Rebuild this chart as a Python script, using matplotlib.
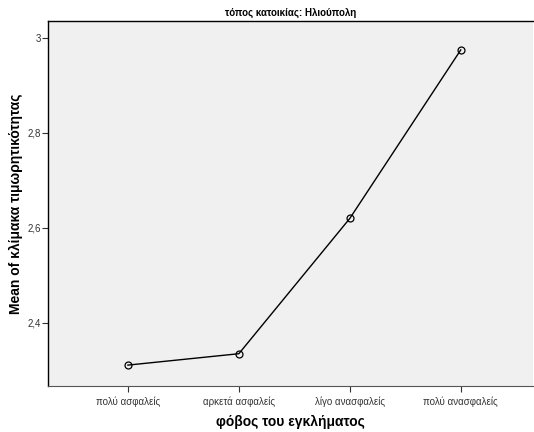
import matplotlib
matplotlib.use("Agg")
import matplotlib.pyplot as plt
from matplotlib.ticker import FuncFormatter

plt.rcParams['font.family'] = ['Liberation Sans', 'DejaVu Sans']

# δεδομένα του γραφήματος
categorias = ["πολύ ασφαλείς", "αρκετά ασφαλείς", "λίγο ανασφαλείς", "πολύ ανασφαλείς"]
medias = [2.311, 2.335, 2.620, 2.975]
ticks_y = [2.4, 2.6, 2.8, 3.0]

fig = plt.figure(figsize=(5.34, 4.32), dpi=100)
ax = fig.add_axes([0.0899, 0.1065, 0.908, 0.845])
ax.set_facecolor("#f0f0f0")

xs = list(range(len(categorias)))
ax.plot(xs, medias, color="black", linewidth=1.0, marker="o", markersize=5,
        markerfacecolor="none", markeredgecolor="black", markeredgewidth=0.9)

ax.set_xlim(-0.72, 3.65)
ax.set_ylim(2.267, 3.036)
ax.set_xticks(xs)
ax.set_xticklabels(categorias, fontsize=7)
ax.set_yticks(ticks_y)
ax.yaxis.set_major_formatter(FuncFormatter(lambda v, p: f"{v:g}".replace(".", ",")))
ax.tick_params(axis="y", labelsize=7, length=4, width=0.8, pad=1, colors="#333333")
ax.tick_params(axis="x", length=4, width=0.8, colors="#333333")

for lado in ["top", "left"]:
    ax.spines[lado].set_color("black")
    ax.spines[lado].set_linewidth(1.0)
ax.spines["bottom"].set_color("#555555")
ax.spines["right"].set_visible(False)

ax.set_title("τόπος κατοικίας: Ηλιούπολη", fontsize=7, fontweight="bold", pad=4)
ax.set_xlabel("φόβος του εγκλήματος", fontsize=10, fontweight="bold", labelpad=6)
ax.set_ylabel("Mean of κλίμακα τιμωρητικότητας", fontsize=10, fontweight="bold")
ax.yaxis.set_label_coords(-0.052, 0.5)

fig.savefig("out.png", dpi=100)
